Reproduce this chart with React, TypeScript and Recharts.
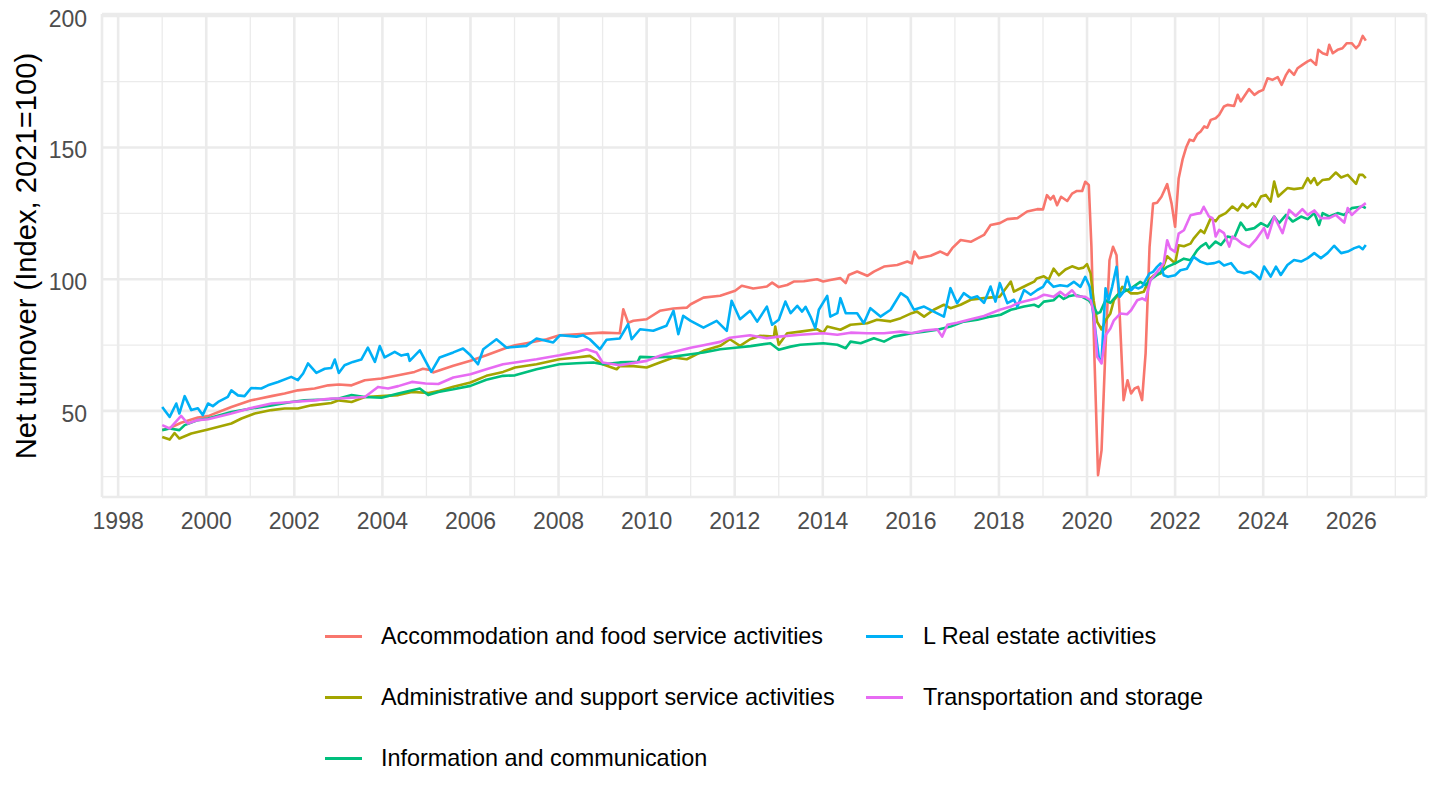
import { LineChart, Line, XAxis, YAxis, CartesianGrid, ReferenceLine } from 'recharts';

// [year, index value]
const accommodation: [number, number][] = [
  [1999.0, 42.7], [1999.17, 43.5], [1999.43, 45.5], [1999.81, 47.5], [2000.04, 48], [2000.57, 51.5],
  [2001.02, 54], [2001.48, 55.6], [2001.78, 56.6], [2002.08, 57.8], [2002.46, 58.5], [2002.77, 59.7],
  [2003.01, 60], [2003.3, 59.7], [2003.6, 61.6], [2003.98, 62.3], [2004.36, 63.5], [2004.73, 64.8],
  [2004.92, 66], [2005.11, 65.4], [2005.15, 64.6], [2005.61, 67.1], [2006.0, 69], [2006.36, 71.1],
  [2006.82, 74], [2007.01, 74.9], [2007.27, 75.7], [2007.73, 77.2], [2008.02, 78.7], [2008.41, 79.1],
  [2009.0, 79.7], [2009.39, 79.5], [2009.47, 88.6], [2009.58, 83.5], [2009.7, 84.2], [2010.0, 84.8],
  [2010.3, 88], [2010.61, 88.9], [2010.91, 89.2], [2011.0, 90.5], [2011.29, 93], [2011.67, 93.7],
  [2012.01, 95.6], [2012.16, 97.5], [2012.42, 96.5], [2012.73, 97.2], [2012.85, 98.7], [2013.0, 97],
  [2013.19, 97.8], [2013.34, 99.1], [2013.57, 99.2], [2013.87, 100], [2014.01, 99.1], [2014.17, 99.7],
  [2014.4, 100.4], [2014.52, 98.5], [2014.59, 101.6], [2014.78, 102.9], [2015.01, 101.3], [2015.16, 102.9],
  [2015.39, 104.8], [2015.69, 105.4], [2015.92, 106.7], [2016.02, 106], [2016.08, 110.5], [2016.18, 108],
  [2016.45, 108.9], [2016.67, 110.5], [2016.83, 109.2], [2016.94, 111.8], [2017.13, 114.9], [2017.36, 114.2],
  [2017.66, 116.8], [2017.81, 120.6], [2018.02, 121.3], [2018.19, 122.8], [2018.42, 123.2], [2018.64, 125.7],
  [2018.87, 126.6], [2019.0, 126.5], [2019.09, 131.9], [2019.17, 130.3], [2019.24, 131.6], [2019.32, 128.1],
  [2019.41, 131.3], [2019.55, 129.7], [2019.66, 132.5], [2019.77, 133.5], [2019.89, 133.5], [2019.96, 137],
  [2020.04, 135.8], [2020.1, 112.3], [2020.17, 69.2], [2020.25, 25.6], [2020.33, 35.1], [2020.42, 74.3],
  [2020.51, 107.2], [2020.59, 112.3], [2020.67, 109.1], [2020.74, 87], [2020.83, 54.1], [2020.92, 61.6],
  [2021.0, 56.6], [2021.08, 58.5], [2021.16, 59.1], [2021.25, 54.1], [2021.33, 71.8], [2021.42, 112.3],
  [2021.5, 128.7], [2021.59, 129], [2021.69, 131.3], [2021.82, 136.1], [2021.92, 128.7], [2022.0, 119.9],
  [2022.08, 138.2], [2022.17, 145.5], [2022.25, 150], [2022.33, 153], [2022.42, 152.5], [2022.5, 155],
  [2022.58, 156.1], [2022.66, 158], [2022.73, 157.5], [2022.81, 160.5], [2022.92, 161.1], [2023.0, 162.4],
  [2023.11, 165.6], [2023.19, 166.2], [2023.34, 165.8], [2023.42, 170], [2023.49, 167.5], [2023.68, 172.2],
  [2023.8, 170], [2023.91, 171.3], [2024.0, 171.9], [2024.1, 176.3], [2024.21, 175.7], [2024.33, 176.7],
  [2024.42, 173.8], [2024.52, 177.6], [2024.59, 179.5], [2024.7, 177.6], [2024.78, 180.1], [2024.89, 181.4],
  [2025.01, 182.7], [2025.08, 183.3], [2025.2, 181.4], [2025.25, 187.1], [2025.35, 185.8], [2025.45, 185.2],
  [2025.5, 189], [2025.58, 185.8], [2025.69, 187.1], [2025.8, 187.7], [2025.9, 189.6], [2026.01, 189.6],
  [2026.11, 187.7], [2026.18, 189], [2026.26, 192.4], [2026.33, 190.6],
];

const administrative: [number, number][] = [
  [1999.0, 40.1], [1999.17, 39.1], [1999.28, 41.6], [1999.39, 39.5], [1999.66, 41.4], [2000.04, 42.9],
  [2000.57, 45.2], [2000.8, 47.1], [2001.1, 49], [2001.48, 50.3], [2001.78, 50.9], [2002.08, 50.9],
  [2002.39, 52.1], [2002.84, 53], [2003.01, 54], [2003.3, 53.4], [2003.6, 55.3], [2003.98, 55.6],
  [2004.36, 56], [2004.67, 57.2], [2005.05, 56.8], [2005.3, 57.6], [2005.61, 59.2], [2006.0, 60.8],
  [2006.36, 63.3], [2006.74, 64.8], [2007.01, 66.5], [2007.5, 67.7], [2008.02, 69.6], [2008.41, 70.3],
  [2008.71, 70.9], [2009.0, 67.7], [2009.32, 65.8], [2009.39, 67], [2009.7, 67], [2010.0, 66.5],
  [2010.3, 68.4], [2010.61, 70.3], [2010.91, 69.6], [2011.29, 72.8], [2011.67, 74.7], [2011.89, 77.2],
  [2012.12, 74.7], [2012.35, 77.2], [2012.58, 78.5], [2012.89, 78.2], [2012.92, 82], [2013.0, 75.1],
  [2013.19, 79.5], [2013.49, 80.1], [2013.87, 81], [2014.01, 79.7], [2014.1, 82], [2014.4, 80.8],
  [2014.63, 82.7], [2015.01, 83.3], [2015.23, 84.6], [2015.54, 84], [2015.77, 85.2], [2016.02, 87.1],
  [2016.14, 87.7], [2016.3, 85.8], [2016.52, 88.4], [2016.75, 90.3], [2016.9, 89], [2017.13, 90.3],
  [2017.36, 92.2], [2017.66, 92.8], [2018.02, 93.4], [2018.27, 99.1], [2018.34, 95.3], [2018.64, 97.8],
  [2018.8, 99.1], [2018.86, 100.3], [2019.02, 101.1], [2019.13, 99.9], [2019.24, 104], [2019.36, 101.5],
  [2019.51, 103.7], [2019.66, 104.9], [2019.81, 104], [2019.92, 104.4], [2020.0, 105.7], [2020.08, 102.2],
  [2020.15, 92], [2020.23, 83.8], [2020.33, 80.9], [2020.42, 84.4], [2020.53, 87], [2020.61, 92],
  [2020.7, 93.9], [2020.8, 97.1], [2020.91, 95.8], [2021.0, 94.6], [2021.14, 94.6], [2021.29, 95.2],
  [2021.4, 99.6], [2021.52, 101.5], [2021.67, 102.2], [2021.82, 108.7], [2022.0, 106], [2022.08, 112.9],
  [2022.2, 112.5], [2022.35, 113.5], [2022.42, 115.4], [2022.58, 118.6], [2022.66, 117.5], [2022.81, 123.2],
  [2022.92, 122], [2023.0, 123.8], [2023.15, 125.1], [2023.3, 127.6], [2023.42, 126.1], [2023.53, 128.6],
  [2023.64, 127], [2023.76, 128.9], [2023.83, 127.6], [2023.95, 131.4], [2024.06, 132], [2024.17, 129.5],
  [2024.25, 137.1], [2024.34, 131.4], [2024.44, 132.9], [2024.55, 134.6], [2024.7, 134.2], [2024.89, 134.6],
  [2025.01, 138.4], [2025.08, 136.5], [2025.16, 138.4], [2025.23, 135.8], [2025.35, 137.7], [2025.5, 138],
  [2025.65, 140.5], [2025.77, 138.6], [2025.92, 139.6], [2026.01, 138], [2026.11, 136.2], [2026.18, 139.6],
  [2026.26, 139.6], [2026.33, 138.4],
];

const information: [number, number][] = [
  [1999.0, 42.7], [1999.17, 43.3], [1999.39, 42.7], [1999.51, 44.6], [1999.81, 46.5], [2000.04, 47.1],
  [2000.57, 49.6], [2001.02, 50.9], [2001.48, 52.1], [2001.93, 53.4], [2002.23, 54], [2002.69, 54.3],
  [2003.01, 54.7], [2003.3, 56], [2003.6, 55.3], [2003.98, 55], [2004.36, 56.6], [2004.85, 58.5],
  [2005.04, 56], [2005.27, 57.2], [2005.61, 58.2], [2006.0, 59.5], [2006.36, 61.8], [2006.74, 63.3],
  [2007.01, 63.5], [2007.5, 65.8], [2008.02, 67.7], [2008.41, 68.1], [2008.79, 68.4], [2009.0, 67.7],
  [2009.39, 68.4], [2009.8, 68.6], [2009.85, 70.5], [2010.15, 70.3], [2010.61, 70.6], [2011.0, 71.5],
  [2011.29, 72.2], [2011.67, 73.4], [2012.01, 74], [2012.36, 74.6], [2012.81, 75.7], [2013.0, 73.2],
  [2013.27, 74.4], [2013.49, 75.1], [2014.01, 75.7], [2014.33, 75.1], [2014.52, 73.8], [2014.63, 76.3],
  [2014.86, 75.7], [2015.16, 77.6], [2015.39, 76.3], [2015.61, 78.2], [2016.02, 79.5], [2016.3, 80.1],
  [2016.6, 80.8], [2016.9, 82], [2017.2, 83.9], [2017.51, 84.6], [2017.81, 85.8], [2018.04, 86.5],
  [2018.27, 88.4], [2018.57, 89.6], [2018.8, 90.3], [2018.9, 89.5], [2019.02, 91.5], [2019.24, 92],
  [2019.36, 93.9], [2019.47, 92.5], [2019.58, 93.5], [2019.73, 94], [2019.89, 93.3], [2020.04, 92],
  [2020.15, 89.5], [2020.23, 87], [2020.3, 87.5], [2020.42, 92], [2020.53, 91], [2020.68, 93.9],
  [2020.83, 95.2], [2021.0, 96.5], [2021.21, 99], [2021.33, 97.7], [2021.48, 100.3], [2021.64, 102.2],
  [2021.82, 104.7], [2022.0, 106], [2022.2, 107.8], [2022.35, 107.2], [2022.5, 111], [2022.58, 112.4],
  [2022.7, 113.7], [2022.77, 111.8], [2022.92, 114.3], [2023.04, 113], [2023.19, 116.2], [2023.34, 115.6],
  [2023.49, 121.5], [2023.61, 118.7], [2023.8, 119.4], [2023.95, 121.3], [2024.1, 120], [2024.25, 123.8],
  [2024.36, 121.3], [2024.52, 124.4], [2024.67, 121.9], [2024.86, 123.8], [2025.01, 122.8], [2025.16, 125.1],
  [2025.27, 120.6], [2025.35, 125.1], [2025.5, 123.8], [2025.69, 125.1], [2025.84, 124.4], [2026.01, 127],
  [2026.14, 127.3], [2026.26, 127.6], [2026.33, 127],
];

const realEstate: [number, number][] = [
  [1999.0, 51.5], [1999.17, 47.7], [1999.32, 52.8], [1999.39, 49], [1999.51, 55.6], [1999.66, 50.3],
  [1999.81, 51], [1999.92, 48.4], [2000.04, 52.8], [2000.15, 51.8], [2000.27, 53.4], [2000.49, 55.3],
  [2000.57, 57.8], [2000.72, 55.9], [2000.87, 55.6], [2001.02, 58.7], [2001.25, 58.5], [2001.4, 59.7],
  [2001.63, 61], [2001.93, 62.9], [2002.08, 61.7], [2002.2, 64.2], [2002.31, 68], [2002.5, 64.4],
  [2002.69, 66], [2002.84, 66.3], [2002.92, 69.5], [2003.01, 64.4], [2003.14, 67.3], [2003.33, 68.6],
  [2003.52, 69.5], [2003.67, 74], [2003.83, 68.6], [2003.94, 74.6], [2004.05, 70.3], [2004.28, 72.4],
  [2004.43, 71], [2004.58, 71.6], [2004.62, 69], [2004.85, 73], [2005.11, 64.8], [2005.3, 70.3],
  [2005.61, 72.2], [2005.83, 73.7], [2006.0, 71.1], [2006.17, 67.7], [2006.29, 73.4], [2006.59, 77.2],
  [2006.82, 74], [2007.27, 74.7], [2007.5, 77.5], [2007.88, 76], [2008.03, 78.7], [2008.41, 78.2],
  [2008.56, 78.7], [2008.71, 77.2], [2008.94, 73.4], [2009.09, 77], [2009.39, 77.5], [2009.58, 82.9],
  [2009.66, 77.2], [2009.85, 81], [2010.15, 80.4], [2010.45, 82.3], [2010.61, 88], [2010.72, 79.1],
  [2010.83, 86.1], [2011.0, 84.2], [2011.29, 81.6], [2011.59, 84.2], [2011.82, 80.4], [2011.93, 91.8],
  [2012.12, 84.8], [2012.35, 88], [2012.51, 83.9], [2012.73, 89.6], [2012.85, 82.7], [2013.0, 84.6],
  [2013.15, 91.5], [2013.27, 87.1], [2013.42, 89.9], [2013.53, 87.7], [2013.61, 89.5], [2013.72, 85.8],
  [2013.83, 81.4], [2013.91, 88.4], [2014.1, 93.7], [2014.17, 85.8], [2014.33, 87.1], [2014.4, 92.8],
  [2014.52, 87.1], [2014.78, 87.1], [2014.93, 83.3], [2015.08, 89], [2015.31, 85.8], [2015.54, 88.4],
  [2015.77, 94.7], [2015.92, 93], [2016.07, 88.4], [2016.3, 89.6], [2016.52, 87.7], [2016.75, 85.8],
  [2016.9, 96.6], [2017.05, 90.9], [2017.2, 94.7], [2017.36, 92.8], [2017.51, 93.5], [2017.66, 91],
  [2017.81, 97.2], [2017.92, 91.5], [2018.02, 98.5], [2018.19, 90.9], [2018.34, 92.2], [2018.42, 89.6],
  [2018.57, 95.9], [2018.72, 94.1], [2018.87, 95.9], [2019.0, 97.1], [2019.09, 99.6], [2019.24, 97.1],
  [2019.39, 97.7], [2019.55, 97.3], [2019.7, 99], [2019.85, 97.1], [2019.96, 100.9], [2020.06, 97.1],
  [2020.15, 85.7], [2020.27, 69.9], [2020.33, 69.2], [2020.42, 96.5], [2020.49, 92], [2020.57, 97.1],
  [2020.67, 104.7], [2020.74, 93.3], [2020.83, 95.2], [2020.91, 100.9], [2021.0, 95.8], [2021.08, 97.1],
  [2021.16, 96.5], [2021.25, 97.1], [2021.33, 99.6], [2021.42, 102.2], [2021.5, 102.8], [2021.59, 104.7],
  [2021.67, 106], [2021.74, 101.5], [2021.84, 100.9], [2022.0, 101.5], [2022.12, 103.4], [2022.27, 104],
  [2022.42, 108.5], [2022.58, 106.6], [2022.73, 105.8], [2022.89, 106.1], [2023.0, 106.7], [2023.11, 105.2],
  [2023.27, 106.1], [2023.42, 102.9], [2023.57, 102.3], [2023.72, 102.9], [2023.83, 101.6], [2023.93, 100],
  [2024.02, 104.8], [2024.17, 101], [2024.29, 104.8], [2024.4, 101.6], [2024.55, 105.4], [2024.7, 107.3],
  [2024.86, 106.7], [2025.01, 108], [2025.16, 109.9], [2025.31, 108], [2025.46, 109.9], [2025.61, 112.7],
  [2025.77, 109.9], [2025.92, 110.5], [2026.07, 111.8], [2026.18, 112.4], [2026.26, 111.4], [2026.33, 113],
];

const transportation: [number, number][] = [
  [1999.0, 44.6], [1999.17, 43.3], [1999.43, 48.1], [1999.58, 45.2], [1999.81, 46.5], [2000.04, 46.8],
  [2000.57, 49], [2001.02, 51.1], [2001.48, 52.8], [2001.93, 53.4], [2002.46, 54], [2002.84, 54.7],
  [2003.01, 54.7], [2003.6, 55.3], [2003.9, 59.1], [2004.13, 58.5], [2004.36, 59.4], [2004.67, 61],
  [2004.98, 60.4], [2005.27, 60.2], [2005.61, 62.7], [2006.0, 63.9], [2006.36, 65.8], [2006.74, 67.7],
  [2007.01, 68.4], [2007.5, 69.6], [2008.02, 71.1], [2008.41, 72.4], [2008.64, 73.4], [2008.86, 72.2],
  [2009.0, 68.4], [2009.39, 67.3], [2010.0, 69], [2010.3, 70.9], [2010.61, 72.4], [2011.0, 74],
  [2011.29, 74.9], [2011.67, 76.2], [2011.89, 77.8], [2012.35, 78.7], [2012.73, 77.6], [2013.0, 78.2],
  [2013.49, 78.9], [2014.01, 79.5], [2014.33, 78.9], [2014.63, 79.7], [2015.01, 79.5], [2015.39, 79.5],
  [2015.77, 80.1], [2016.02, 79.5], [2016.3, 80.5], [2016.6, 81], [2016.71, 78.2], [2016.83, 82.7],
  [2017.05, 83.5], [2017.36, 84.8], [2017.66, 86], [2018.02, 88.4], [2018.27, 89.6], [2018.42, 90.9],
  [2018.57, 91.5], [2018.87, 92.8], [2019.02, 94.1], [2019.09, 93.9], [2019.24, 93.3], [2019.39, 95.2],
  [2019.51, 93.6], [2019.66, 95.8], [2019.77, 93.5], [2019.96, 93.3], [2020.08, 92], [2020.15, 87.6],
  [2020.23, 70.5], [2020.33, 68], [2020.42, 78.7], [2020.53, 81.3], [2020.61, 84.4], [2020.76, 87],
  [2020.91, 86.7], [2021.0, 88.2], [2021.14, 92], [2021.25, 92.7], [2021.33, 92], [2021.44, 99.6],
  [2021.59, 102.8], [2021.74, 106], [2021.82, 114.8], [2021.89, 111.6], [2022.0, 110.4], [2022.08, 117.3],
  [2022.2, 118.6], [2022.35, 124.3], [2022.5, 124.9], [2022.58, 125.1], [2022.65, 127.5], [2022.77, 123.8],
  [2022.85, 123.2], [2022.92, 116.2], [2023.0, 118.7], [2023.11, 117.5], [2023.23, 112.4], [2023.3, 116.2],
  [2023.42, 114.9], [2023.53, 113.4], [2023.68, 112.2], [2023.83, 114.9], [2024.02, 119.4], [2024.1, 115.6],
  [2024.25, 123.8], [2024.44, 117.5], [2024.59, 126.3], [2024.74, 124], [2024.89, 126.6], [2025.01, 124.4],
  [2025.16, 126.1], [2025.31, 123.2], [2025.5, 123.2], [2025.65, 124.4], [2025.84, 121.5], [2025.92, 127],
  [2026.01, 124.4], [2026.18, 127], [2026.33, 128.9],
];

const majorYears = [1998, 2000, 2002, 2004, 2006, 2008, 2010, 2012, 2014, 2016, 2018, 2020, 2022, 2024, 2026];
const minorYears = [1999, 2001, 2003, 2005, 2007, 2009, 2011, 2013, 2015, 2017, 2019, 2021, 2023, 2025, 2027];
const majorValues = [50, 100, 150, 200];
const minorValues = [25, 75, 125, 175];

const series = [
  { name: 'Accommodation and food service activities', color: '#F8766D', data: accommodation },
  { name: 'Administrative and support service activities', color: '#A3A500', data: administrative },
  { name: 'Information and communication', color: '#00BF7D', data: information },
  { name: 'L Real estate activities', color: '#00B0F6', data: realEstate },
  { name: 'Transportation and storage', color: '#E76BF3', data: transportation },
];

// legend is filled column by column, like ggplot
const legendCols = [
  [series[0], series[1], series[2]],
  [series[3], series[4]],
];

const FONT = '"Liberation Sans", Arial, Helvetica, sans-serif';
const GRID = '#EBEBEB';

const toRows = (pairs: [number, number][]) => pairs.map(([t, v]) => ({ t, v }));

export default function App() {
  return (
    <div style={{ position: 'absolute', left: 0, top: 0, width: 1440, height: 810, background: '#fff', fontFamily: FONT }}>
      <LineChart width={1440} height={600} margin={{ top: 14, right: 14, bottom: 63, left: 0 }}>
        <CartesianGrid stroke={GRID} strokeWidth={2.6} />
        {minorYears.map(y => (
          <ReferenceLine key={'vx' + y} x={y} stroke={GRID} strokeWidth={1.3} />
        ))}
        {minorValues.map(v => (
          <ReferenceLine key={'hy' + v} y={v} stroke={GRID} strokeWidth={1.3} />
        ))}
        <XAxis
          type="number"
          dataKey="t"
          domain={[1997.633, 2027.697]}
          ticks={majorYears}
          interval={0}
          allowDataOverflow
          height={40}
          tickLine={false}
          axisLine={false}
          tickSize={6}
          tickMargin={10}
          tick={{ fill: '#4D4D4D', fontSize: 23, fontFamily: FONT }}
        />
        <YAxis
          type="number"
          domain={[17.3, 200.7]}
          ticks={majorValues}
          interval={0}
          allowDataOverflow
          width={102}
          tickLine={false}
          axisLine={false}
          tickSize={6}
          tickMargin={9}
          tick={{ fill: '#4D4D4D', fontSize: 23, fontFamily: FONT, dy: 2.5 }}
        />
        {series.map(s => (
          <Line
            key={s.name}
            data={toRows(s.data)}
            dataKey="v"
            type="linear"
            stroke={s.color}
            strokeWidth={2.6}
            dot={false}
            activeDot={false}
            strokeLinejoin="round"
            isAnimationActive={false}
          />
        ))}
      </LineChart>

      <svg width={60} height={600} style={{ position: 'absolute', left: 0, top: 0 }}>
        <text
          x={36}
          y={256}
          transform="rotate(-90 36 256)"
          textAnchor="middle"
          fontSize={29.2}
          fontFamily={FONT}
          fill="#000"
        >
          Net turnover (Index, 2021=100)
        </text>
      </svg>

      {legendCols.map((col, ci) => (
        <div key={ci} style={{ position: 'absolute', left: ci === 0 ? 325 : 866, top: 606 }}>
          {col.map(s => (
            <div key={s.name} style={{ display: 'flex', alignItems: 'center', height: 61 }}>
              <div style={{ width: 37, height: 3, background: s.color }} />
              <span style={{ marginLeft: ci === 0 ? 19 : 20, fontSize: 23.4, color: '#000', whiteSpace: 'nowrap' }}>
                {s.name}
              </span>
            </div>
          ))}
        </div>
      ))}
    </div>
  );
}
